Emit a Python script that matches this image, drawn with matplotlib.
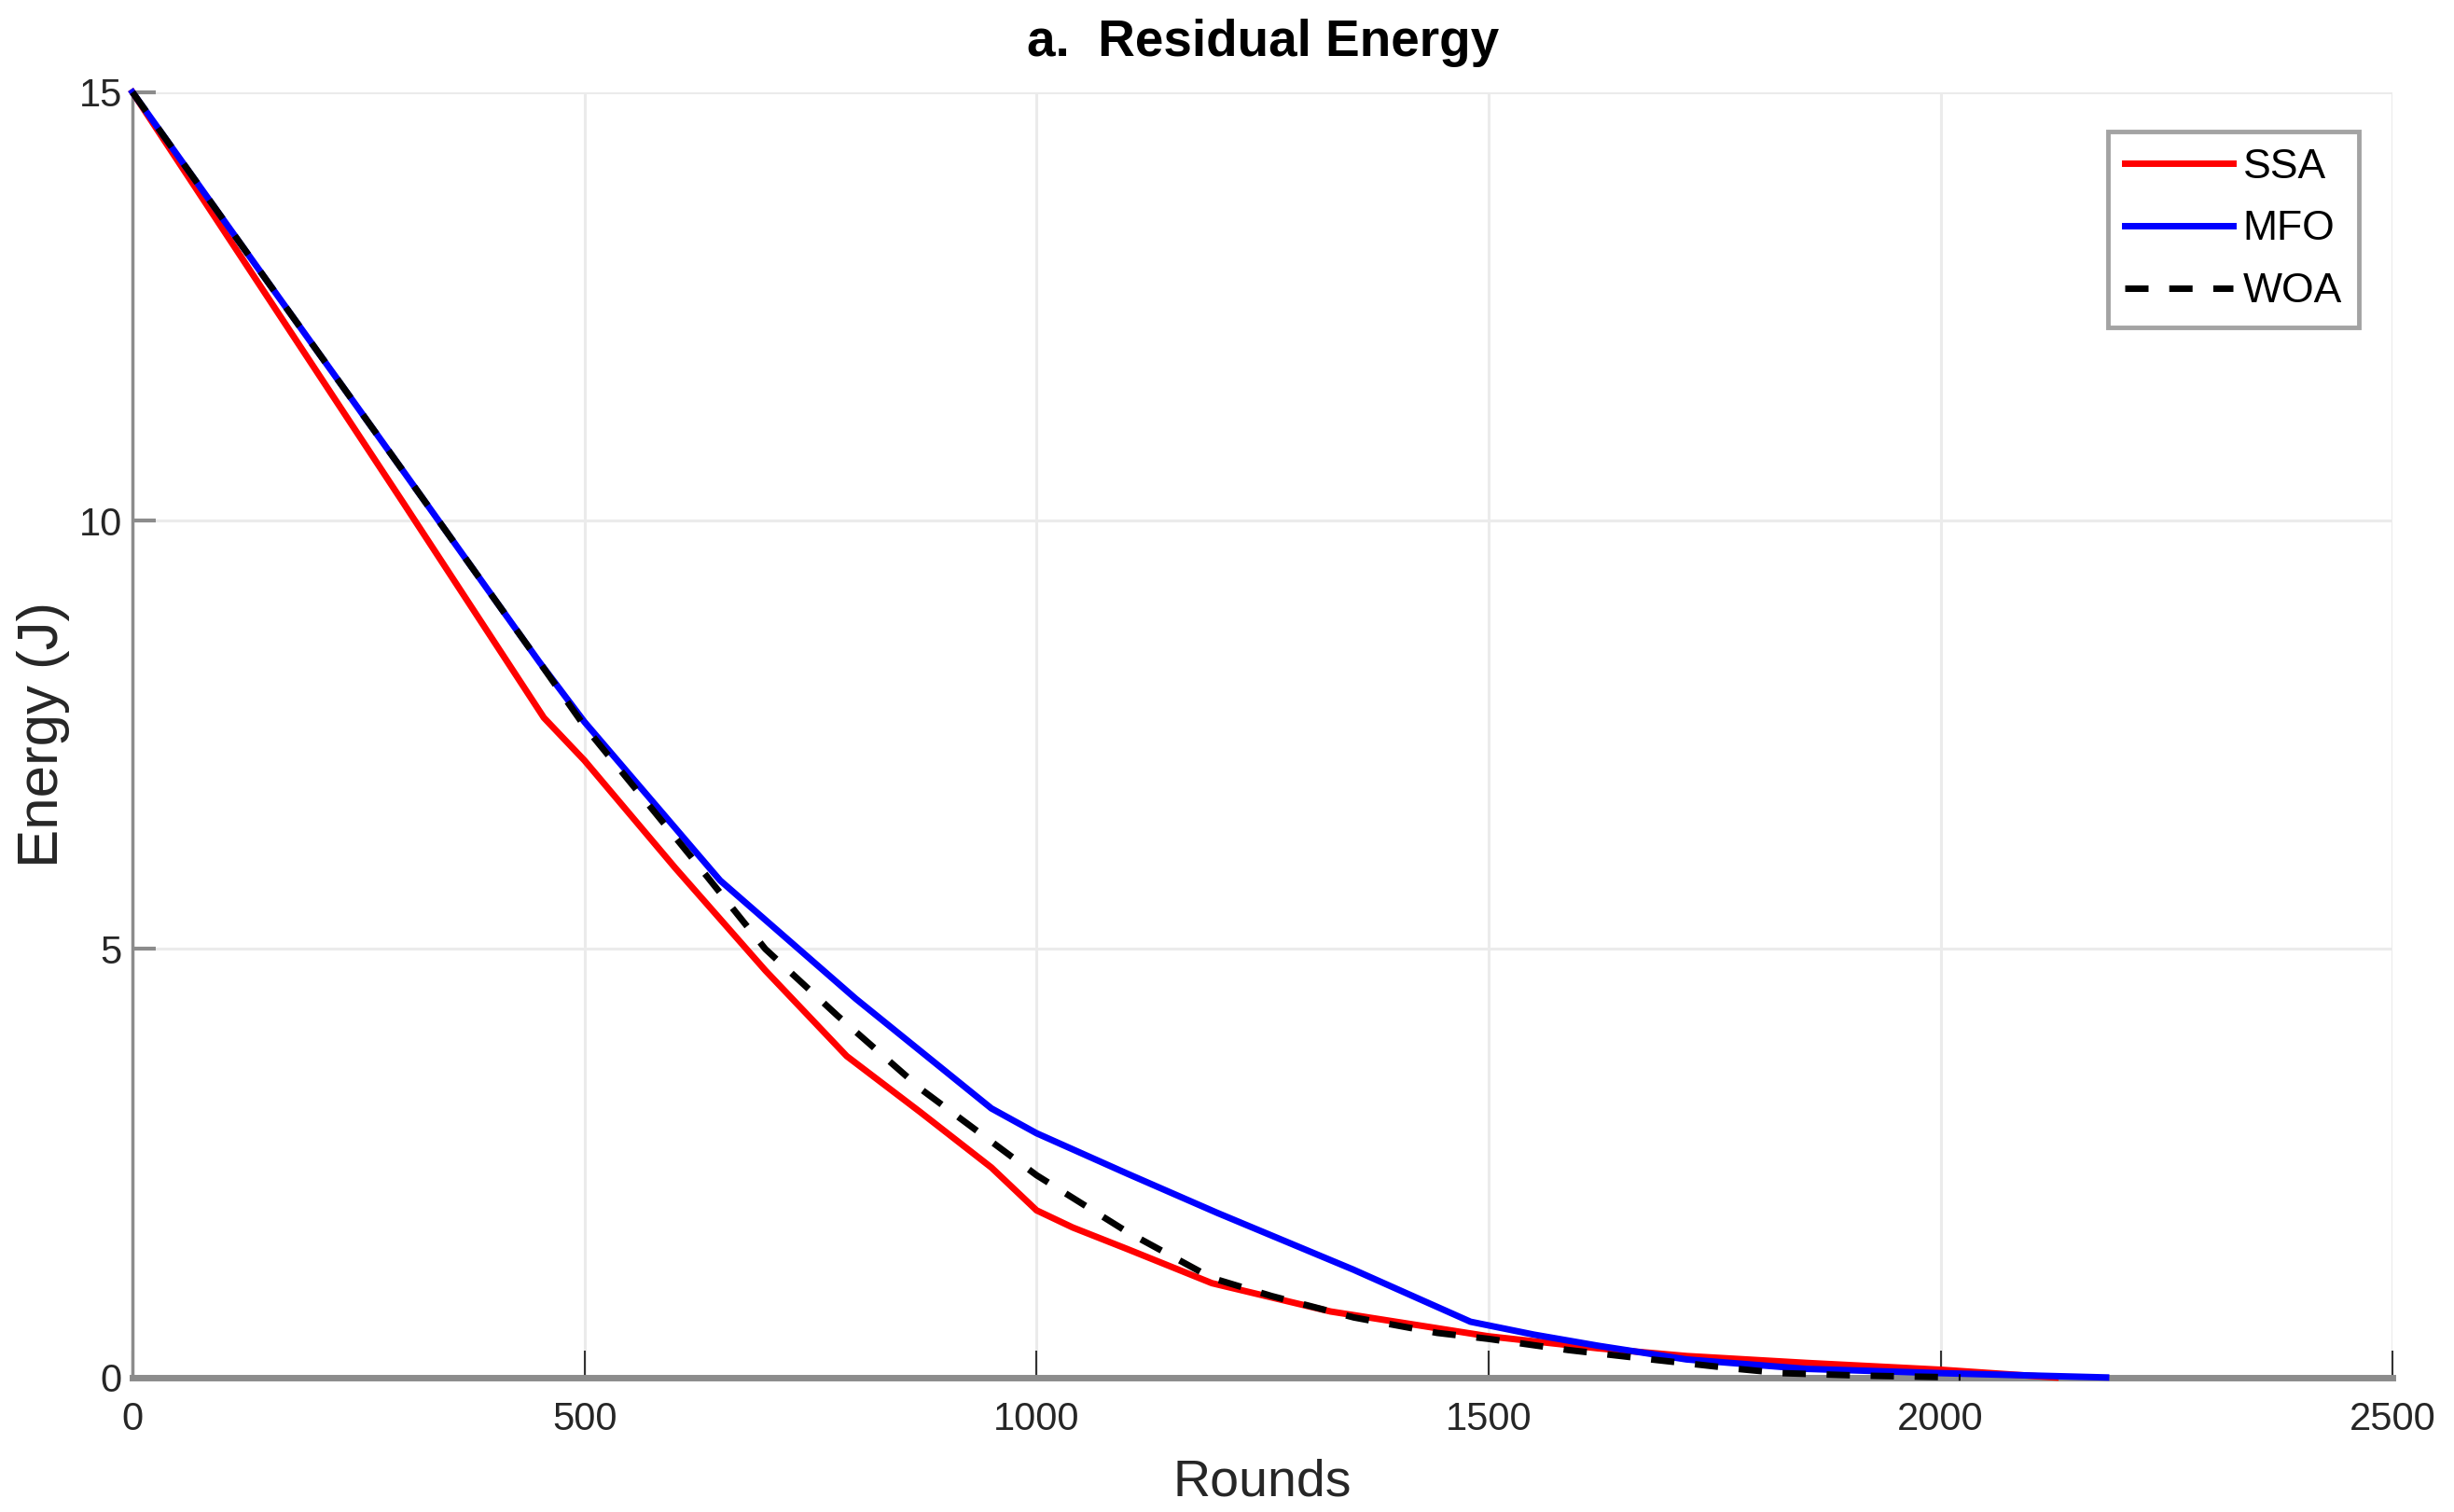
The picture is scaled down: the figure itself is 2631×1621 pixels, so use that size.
import matplotlib
matplotlib.use("Agg")
import matplotlib.pyplot as plt

# values (rounds, residual energy in J)
ssa_rounds = [0, 150, 300, 455, 500, 600, 700, 790, 871, 950, 1000, 1040, 1100, 1194, 1325, 1500, 1621, 1719, 1851, 2000, 2127]
ssa_energy = [15, 12.6, 10.2, 7.7, 7.2, 5.95, 4.75, 3.75, 3.1, 2.45, 1.95, 1.75, 1.5, 1.1, 0.77, 0.48, 0.34, 0.25, 0.17, 0.09, 0.0]

mfo_rounds = [0, 150, 300, 450, 500, 650, 800, 950, 1000, 1100, 1200, 1350, 1480, 1550, 1621, 1719, 1851, 2000, 2183]
mfo_energy = [15, 12.78, 10.57, 8.35, 7.65, 5.8, 4.42, 3.14, 2.85, 2.38, 1.92, 1.26, 0.65, 0.5, 0.37, 0.21, 0.1, 0.05, 0.0]

woa_rounds = [0, 150, 300, 450, 500, 620, 700, 780, 874, 1000, 1100, 1194, 1260, 1351, 1443, 1500, 1588, 1680, 1775, 1825, 1917, 2022]
woa_energy = [15, 12.78, 10.57, 8.35, 7.6, 6.05, 5.0, 4.22, 3.35, 2.36, 1.7, 1.16, 0.95, 0.7, 0.52, 0.45, 0.32, 0.21, 0.1, 0.05, 0.02, 0.0]

x_ticks = [0, 500, 1000, 1500, 2000, 2500]
y_ticks = [0, 5, 10, 15]

plt.rcParams["font.family"] = ["Liberation Sans", "DejaVu Sans"]

fig = plt.figure(figsize=(26.31, 16.21), dpi=100)
ax = fig.add_axes([0.054, 0.089, 0.921, 0.85])

ax.grid(True, color="#ebebeb", linewidth=2.2)
ax.set_axisbelow(True)

ax.plot(ssa_rounds, ssa_energy, color="#ff0000", linewidth=5, label="SSA", clip_on=False, zorder=3)
ax.plot(mfo_rounds, mfo_energy, color="#0000ff", linewidth=5, label="MFO", clip_on=False, zorder=3)
ax.plot(woa_rounds, woa_energy, color="black", linewidth=5, linestyle=(0, (3.6, 3.2)),
        label="WOA", clip_on=False, zorder=4)

ax.set_xlim(0, 2500)
ax.set_ylim(0, 15)
ax.set_xticks(x_ticks)
ax.set_yticks(y_ticks)

for side in ["top", "right"]:
    ax.spines[side].set_visible(False)
ax.spines["left"].set_color("#8c8c8c")
ax.spines["left"].set_linewidth(2.5)
ax.spines["bottom"].set_color("#8c8c8c")
ax.spines["bottom"].set_linewidth(5)

ax.tick_params(axis="x", direction="in", length=21, width=1.5, color="#333333", pad=18,
               labelsize=30, labelcolor="#262626")
ax.tick_params(axis="y", direction="in", length=18, width=3, color="#8c8c8c", pad=8,
               labelsize=30, labelcolor="#262626")

ax.set_xlabel("Rounds", fontsize=40, color="#262626", labelpad=16)
ax.set_ylabel("Energy (J)", fontsize=44.5, color="#262626", labelpad=7)
ax.set_title("a.  Residual Energy", fontsize=39.5, fontweight="bold", pad=28)

leg = ax.legend(loc="upper right", bbox_to_anchor=(0.985, 0.9695), fontsize=32, frameon=True,
                fancybox=False, handlelength=2.6, handletextpad=0.25, borderpad=0.4,
                labelspacing=0.58, borderaxespad=0)
leg.get_frame().set_edgecolor("#8c8c8c")
leg.get_frame().set_linewidth(3.5)

fig.savefig("out.png", dpi=100, facecolor="white")
